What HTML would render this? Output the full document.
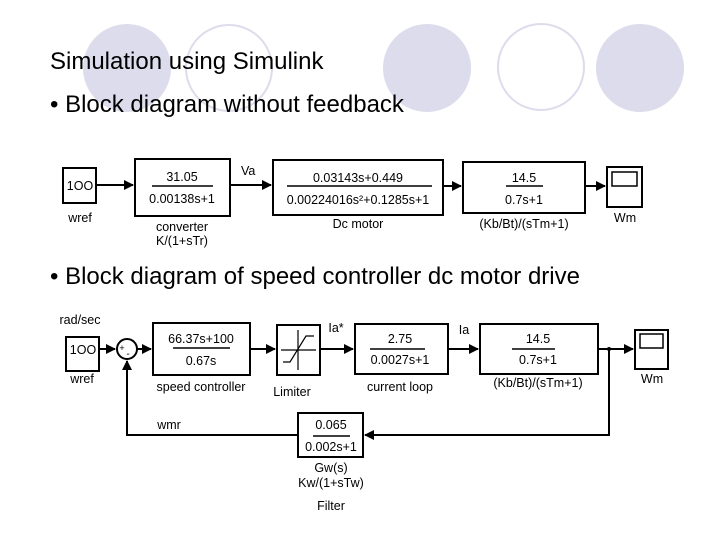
<!DOCTYPE html>
<html><head><meta charset="utf-8"><style>
html,body{margin:0;padding:0;background:#fff;}
svg{display:block;}
text{font-family:"Liberation Sans",Arial,sans-serif;fill:#000;}
.d{font-size:12.5px;}
.t{font-size:24px;}
</style></head><body>
<svg width="720" height="540" viewBox="0 0 720 540" xmlns="http://www.w3.org/2000/svg">
<defs>
<marker id="a" markerWidth="10" markerHeight="10" refX="9" refY="5" orient="auto" markerUnits="userSpaceOnUse">
<path d="M0,0 L10,5 L0,10 z" fill="#000"/></marker>
</defs>
<circle cx="127" cy="68" r="44" fill="#dcdcec"/>
<circle cx="229" cy="68" r="43" fill="none" stroke="#dcdcec" stroke-width="2"/>
<circle cx="427" cy="68" r="44" fill="#dcdcec"/>
<circle cx="541" cy="67" r="43" fill="none" stroke="#dcdcec" stroke-width="2"/>
<circle cx="640" cy="68" r="44" fill="#dcdcec"/>

<text class="t" x="50" y="69">Simulation using Simulink</text>
<text class="t" x="50" y="112">• Block diagram without feedback</text>
<text class="t" x="50" y="284">• Block diagram of speed controller dc motor drive</text>

<g stroke="#000" stroke-width="2" fill="none">
<rect x="63" y="168" width="33" height="35"/>
<rect x="135" y="159" width="95" height="57"/>
<rect x="273" y="160" width="170" height="55"/>
<rect x="463" y="162" width="122" height="51"/>
<rect x="607" y="167" width="35" height="40"/>
<rect x="612" y="172" width="25" height="14" stroke-width="1.5"/>
<line x1="96" y1="185" x2="133" y2="185" marker-end="url(#a)"/>
<line x1="230" y1="185" x2="271" y2="185" marker-end="url(#a)"/>
<line x1="443" y1="186" x2="461" y2="186" marker-end="url(#a)"/>
<line x1="585" y1="186" x2="605" y2="186" marker-end="url(#a)"/>
<line x1="152" y1="186" x2="213" y2="186" stroke-width="1.5"/>
<line x1="287" y1="186" x2="432" y2="186" stroke-width="1.5"/>
<line x1="506" y1="186" x2="543" y2="186" stroke-width="1.5"/>

<rect x="66" y="337" width="33" height="34"/>
<circle cx="127" cy="349" r="10"/>
<rect x="153" y="323" width="97" height="52"/>
<rect x="277" y="325" width="43" height="50"/>
<rect x="355" y="324" width="93" height="50"/>
<rect x="480" y="324" width="118" height="50"/>
<rect x="635" y="330" width="33" height="39"/>
<rect x="640" y="334" width="23" height="14" stroke-width="1.5"/>
<rect x="298" y="413" width="65" height="44"/>
<line x1="99" y1="349" x2="115" y2="349" marker-end="url(#a)"/>
<line x1="137" y1="349" x2="151" y2="349" marker-end="url(#a)"/>
<line x1="250" y1="349" x2="275" y2="349" marker-end="url(#a)"/>
<line x1="320" y1="349" x2="353" y2="349" marker-end="url(#a)"/>
<line x1="448" y1="349" x2="478" y2="349" marker-end="url(#a)"/>
<line x1="598" y1="349" x2="633" y2="349" marker-end="url(#a)"/>
<polyline points="609,349 609,435 365,435" marker-end="url(#a)"/>
<polyline points="298,435 127,435 127,361" marker-end="url(#a)"/>
<line x1="173" y1="348" x2="230" y2="348" stroke-width="1.5"/>
<line x1="370" y1="349" x2="425" y2="349" stroke-width="1.5"/>
<line x1="512" y1="349" x2="555" y2="349" stroke-width="1.5"/>
<line x1="313" y1="436" x2="350" y2="436" stroke-width="1.5"/>
<g stroke-width="1.2">
<line x1="298" y1="330" x2="298" y2="370"/>
<line x1="281" y1="350" x2="316" y2="350"/>
<polyline points="283,362 290,362 306,336 314,336"/>
</g>
</g>
<circle cx="609" cy="349" r="2" fill="#000"/>

<g class="d" text-anchor="middle">
<text x="80" y="190">1OO</text>
<text x="80" y="222">wref</text>
<text x="182" y="181">31.05</text>
<text x="182" y="203">0.00138s+1</text>
<text x="182" y="231">converter</text>
<text x="182" y="245">K/(1+sTr)</text>
<text x="241" y="175" text-anchor="start">Va</text>
<text x="358" y="182">0.03143s+0.449</text>
<text x="358" y="204">0.00224016s²+0.1285s+1</text>
<text x="358" y="228">Dc motor</text>
<text x="524" y="182">14.5</text>
<text x="524" y="204">0.7s+1</text>
<text x="524" y="228">(Kb/Bt)/(sTm+1)</text>
<text x="625" y="222">Wm</text>

<text x="80" y="324">rad/sec</text>
<text x="83" y="354">1OO</text>
<text x="82" y="383">wref</text>
<text x="122" y="351" font-size="9">+</text>
<text x="128" y="357" font-size="10">-</text>
<text x="201" y="343">66.37s+100</text>
<text x="201" y="365">0.67s</text>
<text x="201" y="391">speed controller</text>
<text x="292" y="396">Limiter</text>
<text x="336" y="332">Ia*</text>
<text x="400" y="343">2.75</text>
<text x="400" y="364">0.0027s+1</text>
<text x="400" y="391">current loop</text>
<text x="464" y="334">Ia</text>
<text x="538" y="343">14.5</text>
<text x="538" y="364">0.7s+1</text>
<text x="538" y="387">(Kb/Bt)/(sTm+1)</text>
<text x="652" y="383">Wm</text>
<text x="169" y="429">wmr</text>
<text x="331" y="429">0.065</text>
<text x="331" y="451">0.002s+1</text>
<text x="331" y="472">Gw(s)</text>
<text x="331" y="487">Kw/(1+sTw)</text>
<text x="331" y="510">Filter</text>
</g>
</svg>
</body></html>
